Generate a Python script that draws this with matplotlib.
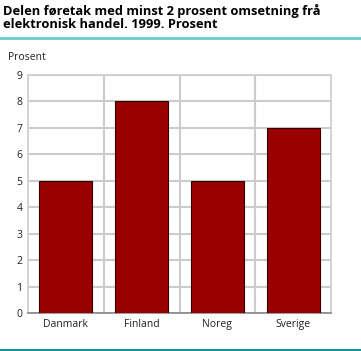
import matplotlib
matplotlib.use("Agg")
import matplotlib.pyplot as plt
from matplotlib.lines import Line2D

land = ["Danmark", "Finland", "Noreg", "Sverige"]
prosent = [5, 8, 5, 7]
yticks = [0, 1, 2, 3, 4, 5, 6, 7, 8, 9]

W, H = 361, 351
fig = plt.figure(figsize=(W / 100, H / 100), dpi=100)
plt.rcParams['font.family'] = ['Open Sans', 'DejaVu Sans']

# plot area in pixels: x 28..331, y 75..313
ax = fig.add_axes([28 / W, 1 - 313 / H, (331 - 28) / W, (313 - 75) / H])
x = range(len(land))
ax.bar(x, prosent, width=0.7, color="#990000", edgecolor="#330000", linewidth=0.8, zorder=3)

ax.set_xlim(-0.5, len(land) - 0.5)
ax.set_ylim(0, 9)
ax.set_yticks(yticks)
ax.set_xticks(list(x))
ax.set_xticklabels(land)
for b in [0.5, 1.5, 2.5]:
    ax.axvline(b, color="#cccccc", lw=1.5, zorder=1)
ax.yaxis.grid(True, color="#cccccc", lw=1.5, zorder=1)
for s in ax.spines.values():
    s.set_color("#cccccc")
    s.set_linewidth(1.2)
ax.spines["bottom"].set_color("#888888")
ax.tick_params(length=0, labelsize=7.5, colors="#222222", pad=4)

fig.text(3 / W, 1 - 4 / H, "Delen føretak med minst 2 prosent omsetning frå\nelektronisk handel. 1999. Prosent",
         fontsize=9.3, fontweight="bold", va="top", ha="left", linespacing=1.05)
fig.add_artist(Line2D([0, 1], [1 - 37.5 / H, 1 - 37.5 / H], color="#66cccc", lw=2, transform=fig.transFigure))
fig.add_artist(Line2D([0, 1], [1 - 349.5 / H, 1 - 349.5 / H], color="#009999", lw=1.5, transform=fig.transFigure))
fig.text(8 / W, 1 - 57 / H, "Prosent", fontsize=7.5, va="center", ha="left", color="#222222")

fig.savefig("out.png", dpi=100)
